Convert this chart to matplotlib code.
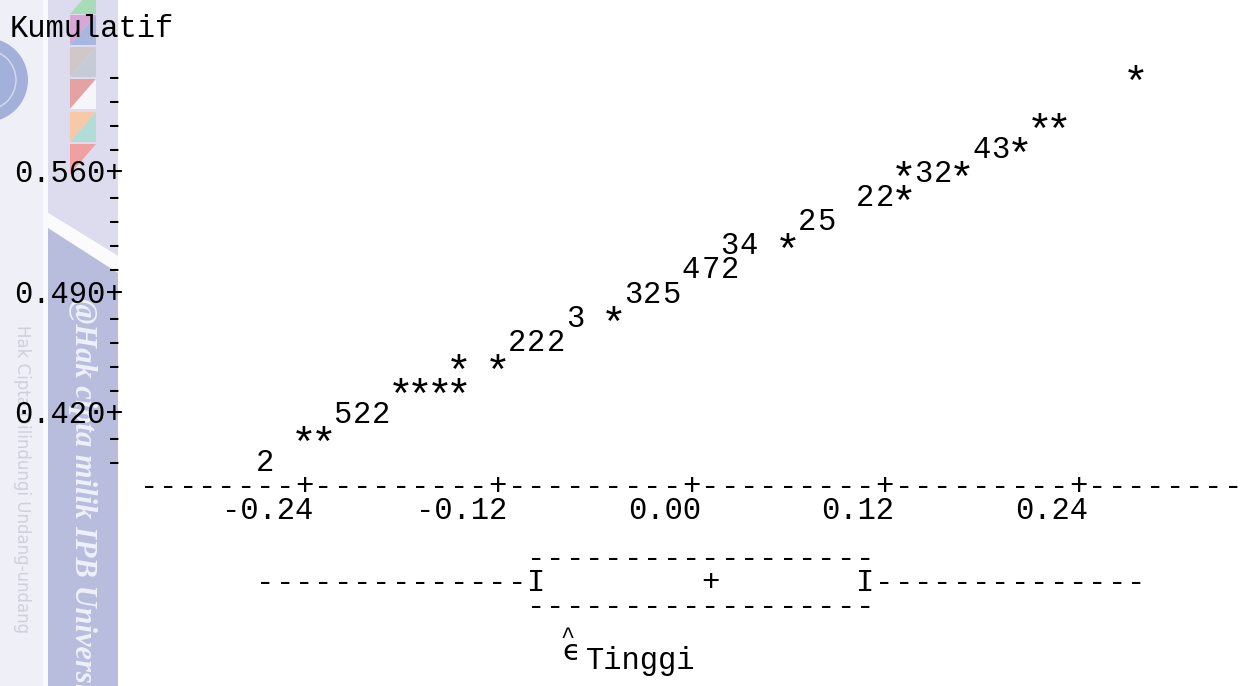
import numpy as np
import matplotlib.pyplot as plt
from matplotlib.patches import Rectangle, Polygon, Circle
from matplotlib.transforms import Affine2D, offset_copy

# data (plot karakter: residual vs kumulatif)
resid = [0.276,
         0.216, 0.228,
         0.180, 0.192, 0.204,
         0.132, 0.144, 0.156, 0.168,
         0.108, 0.120, 0.132,
         0.072, 0.084,
         0.024, 0.036, 0.060,
         0.000, 0.012, 0.024,
         -0.036, -0.024, -0.012,
         -0.072, -0.048,
         -0.108, -0.096, -0.084,
         -0.144, -0.120,
         -0.180, -0.168, -0.156, -0.144,
         -0.216, -0.204, -0.192,
         -0.240, -0.228,
         -0.264]
kumulatif = [0.616,
             0.588, 0.588,
             0.574, 0.574, 0.574,
             0.560, 0.560, 0.560, 0.560,
             0.546, 0.546, 0.546,
             0.532, 0.532,
             0.518, 0.518, 0.518,
             0.504, 0.504, 0.504,
             0.490, 0.490, 0.490,
             0.476, 0.476,
             0.462, 0.462, 0.462,
             0.448, 0.448,
             0.434, 0.434, 0.434, 0.434,
             0.420, 0.420, 0.420,
             0.406, 0.406,
             0.392]
tanda = ['*',
         '*', '*',
         '4', '3', '*',
         '*', '3', '2', '*',
         '2', '2', '*',
         '2', '5',
         '3', '4', '*',
         '4', '7', '2',
         '3', '2', '5',
         '3', '*',
         '2', '2', '2',
         '*', '*',
         '*', '*', '*', '*',
         '5', '2', '2',
         '*', '*',
         '2']

ytick_lab = [0.420, 0.490, 0.560]
xtick_lab = [-0.24, -0.12, 0.00, 0.12, 0.24]

# boxplot residual
whis_lo, q1, med, q3, whis_hi = -0.264, -0.096, 0.012, 0.108, 0.276

W, H = 1240, 686
colw, roww = 0.012, 0.014        # satu karakter / satu baris
colpx, rowpx = 19.35, 24.1
x0px, y0px, y0val = 691, 174, 0.560

fig = plt.figure(figsize=(W / 100, H / 100), dpi=100)
ax = fig.add_axes([0, 0, 1, 1])
ax.set_xlim(-x0px / colpx * colw, (W - x0px) / colpx * colw)
ax.set_ylim(y0val - (H - y0px) / rowpx * roww, y0val + y0px / rowpx * roww)
ax.axis('off')

pxT = Affine2D().scale(1, -1).translate(0, H)
mono = dict(family='Liberation Mono', fontsize=22, color='black', zorder=5)

# --- watermark di kiri ---
ax.add_patch(Rectangle((0, 0), 43, H, transform=pxT, fc='#efeff7', ec='none', zorder=0, clip_on=False))
ax.add_patch(Rectangle((43, 0), 5, H, transform=pxT, fc='#fafafd', ec='none', zorder=0, clip_on=False))
ax.add_patch(Polygon([(48, 0), (118, 0), (118, 256), (48, 213)], transform=pxT,
                     fc='#dcdcee', ec='none', zorder=0, clip_on=False))
ax.add_patch(Polygon([(48, 213), (118, 256), (118, 273), (48, 228)], transform=pxT,
                     fc='#fbfbfe', ec='none', zorder=0, clip_on=False))
ax.add_patch(Polygon([(48, 228), (118, 273), (118, H), (48, H)], transform=pxT,
                     fc='#b8bddd', ec='none', zorder=0, clip_on=False))
kotak = [(-16, None, '#a8dcb8'), (15, '#d9a7d6', '#a9b6e0'), (47, '#d0c8c8', '#c5ccd8'),
         (79, '#e4a2a2', '#f6f6fa'), (112, '#f8c9a6', '#b2ddd6'), (144, '#f0a0a0', None)]
for top, ca, cb in kotak:
    l, r, b = 70, 96, top + 30
    if ca:
        ax.add_patch(Polygon([(l, top), (r, top), (l, b)], transform=pxT, fc=ca, ec='none',
                             zorder=1, clip_on=False))
    if cb:
        ax.add_patch(Polygon([(r, top), (r, b), (l, b)], transform=pxT, fc=cb, ec='none',
                             zorder=1, clip_on=False))
ax.add_patch(Circle((-14, 80), 42, transform=pxT, fc='#a3b0da', ec='none', zorder=1, clip_on=False))
ax.add_patch(Circle((-14, 80), 30, transform=pxT, fc='none', ec='#d5dbf0', lw=1, zorder=1, clip_on=False))
ax.text(22, 325, 'Hak Cipta Dilindungi Undang-undang', transform=pxT, rotation=-90,
        ha='center', va='top', family='DejaVu Sans', fontsize=12, color='#d0d0da', zorder=1)
ax.text(82, 298, '@Hak cipta milik IPB University', transform=pxT, rotation=-90,
        ha='center', va='top', family='Liberation Serif', style='italic', weight='bold',
        fontsize=22, color='#eef0fa', zorder=1)

# --- titik-titik plot ---
star_tr = offset_copy(ax.transData, fig=fig, y=-7, units='dots')
for x, y, t in zip(resid, kumulatif, tanda):
    if t == '*':
        ax.text(x, y, t, ha='center', va='center', transform=star_tr,
                **{**mono, 'fontsize': 31})
    else:
        ax.text(x, y, t, ha='center', va='center', **mono)

# --- sumbu y ---
yrows = np.round(np.arange(0.392, 0.617, roww), 3)
yax_x = (114 - x0px) / colpx * colw
for y in yrows:
    if np.any(np.isclose(y, ytick_lab)):
        ax.text(yax_x + colw / 2, y, f'{y:.3f}+', ha='right', va='center', **mono)
    else:
        ax.text(yax_x, y, '-', ha='center', va='center', **mono)
fig.text(10 / W, 1 - 29 / H, 'Kumulatif', ha='left', va='center',
         family='Liberation Mono', fontsize=22)

# --- sumbu x ---
xax_y = yrows[0] - roww
for k in range(-28, 29):
    ch = '+' if k % 10 == 0 else '-'
    ax.text(k * colw, xax_y, ch, ha='center', va='center', **mono)
for v in xtick_lab:
    ax.text(v + colw / 2, xax_y - roww, f'{v:.2f}', ha='right', va='center', **mono)

# --- boxplot ---
ymid = xax_y - 4 * roww + 0.0005
c_lo, c1, cm, c3, c_hi = [int(round(v / colw)) for v in (whis_lo, q1, med, q3, whis_hi)]
for k in range(c1, c3 + 1):
    ax.text(k * colw, ymid + roww, '-', ha='center', va='center', **mono)
    ax.text(k * colw, ymid - roww, '-', ha='center', va='center', **mono)
for k in list(range(c_lo, c1)) + list(range(c3 + 1, c_hi + 1)):
    ax.text(k * colw, ymid, '-', ha='center', va='center', **mono)
ax.text(c1 * colw, ymid, 'I', ha='center', va='center', **mono)
ax.text(c3 * colw, ymid, 'I', ha='center', va='center', **mono)
ax.text(cm * colw, ymid, '+', ha='center', va='center', **mono)

# label sumbu
ax.text(568, 636, '^', transform=pxT, ha='center', va='center', family='Liberation Mono',
        fontsize=17, zorder=5)
ax.text(571, 652, '\u03f5', transform=pxT, ha='center', va='center', family='DejaVu Sans',
        fontsize=21, zorder=5)
ax.text(586, 661, 'Tinggi', transform=pxT, ha='left', va='center', family='Liberation Mono',
        fontsize=22, zorder=5)

fig.savefig('out.png', dpi=100)
